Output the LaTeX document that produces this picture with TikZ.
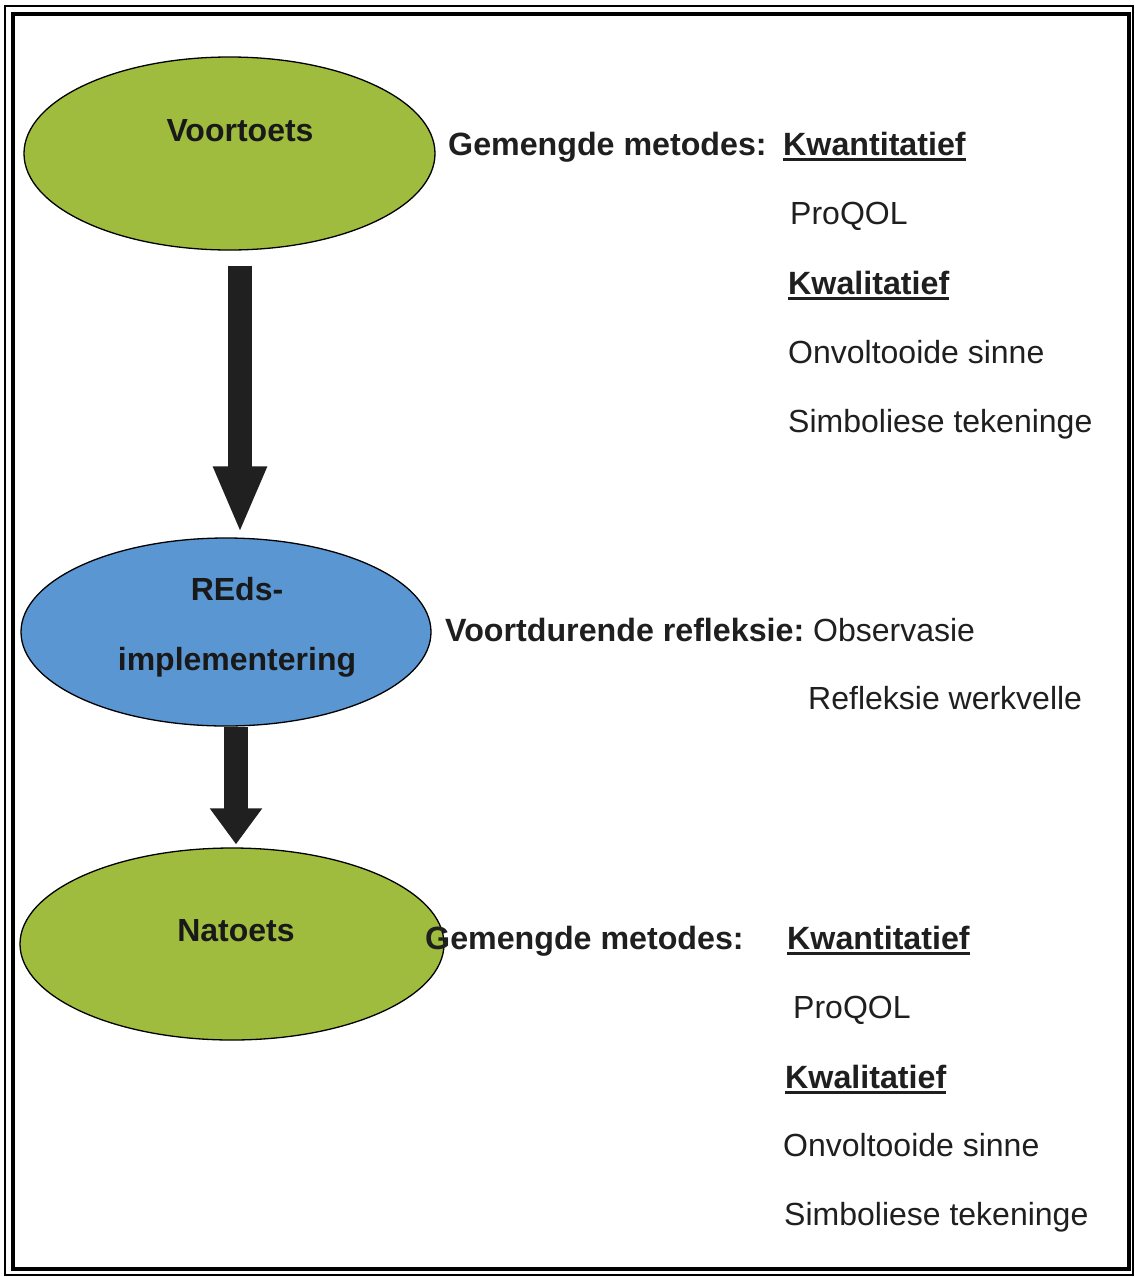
\documentclass[tikz,border=0pt]{standalone}
\usepackage{fontspec}
\setmainfont{Liberation Sans}
\usetikzlibrary{shapes.geometric,arrows.meta,calc}

\definecolor{stagegreen}{RGB}{160,188,62}
\definecolor{stageblue}{RGB}{90,150,210}
\definecolor{arrowfill}{RGB}{32,32,32}

% thick underline for the section headings
\newcommand{\headul}[1]{\setbox0\hbox{#1}\rlap{\rule[-5.5pt]{\wd0}{2.6pt}}\box0}

\tikzset{
  stage/.style={ellipse, draw=black, line width=1.3pt, inner sep=0pt},
  stagetext/.style={font=\fontsize{32}{70}\selectfont\bfseries, align=center, inner sep=0pt, text=black!90},
  item/.style={anchor=base west, inner sep=0pt, font=\fontsize{32}{38}\selectfont, text=black!88},
  head/.style={item, font=\fontsize{32.2}{38}\selectfont\bfseries},
  flow/.style={line width=24pt, draw=arrowfill},
}

\begin{document}
\begin{tikzpicture}[x=1pt, y=-1pt]
  \useasboundingbox (0,0) rectangle (1135,1277);
  \fill[white] (0,0) rectangle (1135,1277);

  % double frame
  \draw[line width=1.2pt] (5,6) rectangle (1133,1275);
  \draw[line width=3.6pt] (13,14) rectangle (1129,1269);

  % stages
  \node[stage, fill=stagegreen, minimum width=411pt, minimum height=193pt] (voor) at (229.5,153.5) {};
  \node[stage, fill=stageblue,  minimum width=410pt, minimum height=188pt] (reds) at (226,632) {};
  \node[stage, fill=stagegreen, minimum width=424pt, minimum height=192pt] (na)   at (232,944) {};

  \node[stagetext] (voortxt) at (240,131) {Voortoets};
  \node[stagetext] (redstxt) at (237,627) {REds-\\implementering};
  \node[stagetext] (natxt)   at (236,931) {Natoets};

  % flow arrows
  \draw[flow, -{Triangle[width=49pt,length=67pt]}]
    ($(voor.south)+(10.5,15)$) -- ($(reds.north)+(14,-4)$);
  \draw[flow, -{Triangle[width=50pt,length=36pt]}]
    ($(reds.south)+(10,0)$) -- ($(na.north)+(4,-3)$);

  % pre-test methods
  \node[head] (g1) at (448,155) {Gemengde metodes:};
  \node[head] (kw1) at (783,155) {\headul{Kwantitatief}};
  \node[item] (pq1) at (790,224) {ProQOL};
  \node[head] (kl1) at (788,294) {\headul{Kwalitatief}};
  \node[item] (os1) at (788,363) {Onvoltooide sinne};
  \node[item] (st1) at (788,432) {Simboliese tekeninge};

  % ongoing reflection
  \node[item] (vr) at (445,641) {\fontsize{32.2}{38}\selectfont\textbf{Voortdurende refleksie:}\hspace{-3pt}\fontsize{32}{38}\selectfont{} Observasie};
  \node[item] (rw) at (808,709) {Refleksie werkvelle};

  % post-test methods
  \node[head] (g2) at (425,949) {Gemengde metodes:};
  \node[head] (kw2) at (787,949) {\headul{Kwantitatief}};
  \node[item] (pq2) at (793,1018) {ProQOL};
  \node[head] (kl2) at (785,1088) {\headul{Kwalitatief}};
  \node[item] (os2) at (783,1156) {Onvoltooide sinne};
  \node[item] (st2) at (784,1225) {Simboliese tekeninge};
\end{tikzpicture}
\end{document}
